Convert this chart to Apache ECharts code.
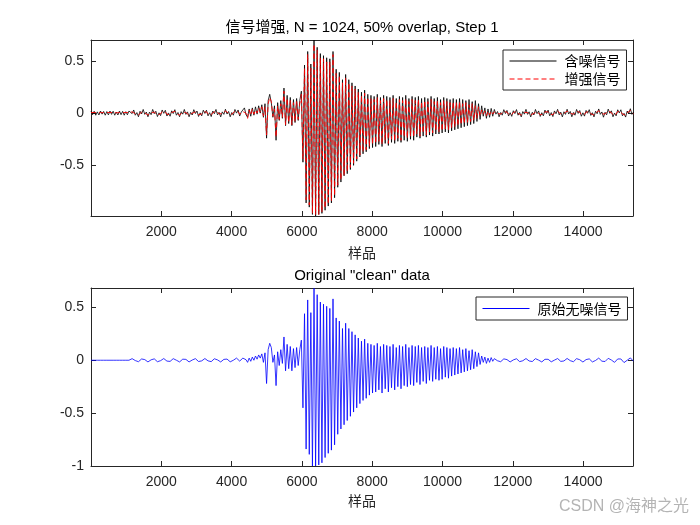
<!DOCTYPE html>
<html>
<head>
<meta charset="utf-8">
<script src="https://cdn.jsdelivr.net/npm/echarts@6.0.0/dist/echarts.min.js"></script>
<style>html,body{margin:0;padding:0;background:#fff;}#chart{width:700px;height:525px;}</style>
</head>
<body>
<div id="chart"></div>
<script>
// ---- data (sample spacing STEP between successive values) ----
const STEP = 45;
const xTicks = [2000, 4000, 6000, 8000, 10000, 12000, 14000];
const yTicksTop = [-0.5, 0, 0.5];
const yTicksBottom = [-1, -0.5, 0, 0.5];
const topTitle = '信号增强, N = 1024, 50% overlap, Step 1';
const bottomTitle = 'Original "clean" data';
const xLabel = '样品';
const seriesNames = ['含噪信号', '增强信号', '原始无噪信号'];

const noisySignal = [
0.02,-0.015,0.018,-0.02,0.012,-0.018,0.02,-0.01,0.016,-0.02,0.015,-0.017,0.02,-0.012,0.018,-0.02,0.01,-0.018,0.02,-0.015,0.017,-0.02,0.014,-0.016,0.02,
0.025,-0.005,0.03,-0.02,0.005,-0.035,0.018,
-0.008,0.035,-0.012,0.01,-0.035,0.01,-0.015,
0.035,-0.005,0.018,-0.033,0.003,-0.024,0.03,
-0.002,0.027,-0.028,0.002,-0.03,0.022,-0.004,
0.033,-0.02,0.006,-0.035,0.014,-0.01,0.035,
-0.012,0.012,-0.035,0.007,-0.018,0.033,-0.004,
0.02,-0.032,0.003,-0.026,0.028,-0.003,0.028,
-0.026,0.004,-0.033,0.02,-0.006,0.035,-0.017,
0.008,-0.036,0.012,-0.012,0.037,-0.009,0.016,
-0.035,0.006,-0.02,0.035,0.0,0.03,-0.028,
0.01,0.0,0.05,-0.015,-0.04,
0.04,-0.03,0.05,-0.02,0.06,-0.01,0.07,0.0,0.08,-0.04,0.09,-0.24,0.12,0.18,0.1,-0.04,0.07,-0.26,0.1,-0.07,0.12,-0.05,0.24,-0.12,0.17,-0.1,0.15,-0.12,0.13,-0.09,0.14,-0.07,0.12,
0.21,-0.47,0.46,-0.86,0.59,-0.9,0.47,-0.97,0.7,-0.985,0.63,-0.97,0.57,-0.96,0.55,-0.93,0.53,-0.89,0.52,-0.86,0.59,-0.81,0.42,-0.71,0.39,-0.66,0.32,-0.6,0.37,-0.58,0.32,-0.54,0.29,-0.5,0.26,-0.46,0.23,-0.42,0.2,-0.39,0.22,-0.37,0.18,-0.34,0.17,
-0.33,0.16,-0.32,0.18,-0.3,0.15,-0.32,0.17,-0.29,0.16,
-0.31,0.15,-0.28,0.17,-0.29,0.14,-0.27,0.16,-0.28,0.15,
-0.26,0.17,-0.27,0.14,-0.25,0.16,-0.26,0.15,-0.23,0.16,
-0.24,0.14,-0.22,0.15,-0.23,0.14,-0.21,0.16,-0.22,0.14,
-0.2,0.15,-0.2,0.13,-0.19,0.15,-0.18,0.14,-0.19,0.13,
-0.17,0.14,-0.16,0.13,-0.15,0.14,-0.14,0.13,-0.13,0.12,
-0.12,0.13,-0.11,0.11,-0.1,0.12,-0.08,0.09,-0.06,0.07,
-0.03,0.05,
-0.05,0.04,-0.04,0.045,-0.03,0.035,-0.01,
0.015,-0.035,0.006,-0.02,0.033,-0.004,0.026,
-0.028,0.004,-0.031,0.023,-0.005,0.034,-0.02,
0.007,-0.036,0.015,-0.01,0.036,-0.012,0.013,
-0.036,0.008,-0.018,0.035,-0.005,0.021,-0.032,
0.004,-0.026,0.029,-0.004,0.029,-0.026,0.005,
-0.033,0.021,-0.006,0.036,-0.017,0.009,-0.036,
0.013,-0.012,0.037,-0.009,0.016,-0.035,0.006,
-0.02,0.035,-0.003,0.025,-0.03,0.003,-0.029,
0.026,-0.002,0.033,-0.022,0.004,-0.036,0.018,
-0.006,0.04,-0.012,0.011,-0.039,0.008,-0.016,
0.038,-0.002,0.022,-0.035,0.0,-0.026,0.032,
0.002,0.032,-0.026,-0.002,-0.038,0.02,-0.002,
0.042,-0.012,0.01
];

const enhancedSignal = [
0.005,-0.004,0.006,-0.005,0.003,-0.006,0.005,-0.003,0.004,-0.006,0.005,-0.004,0.006,-0.003,0.005,-0.005,0.003,-0.006,0.005,-0.004,0.004,-0.005,0.006,-0.003,0.005,
0.008,0.012,0.015,-0.006,-0.011,-0.017,0.001,
0.009,0.019,0.003,-0.006,-0.019,-0.007,0.001,
0.018,0.01,0.002,-0.017,-0.012,-0.007,0.014,
0.013,0.01,-0.011,-0.013,-0.014,0.006,0.012,
0.017,-0.003,-0.01,-0.019,-0.002,0.007,0.019,
0.005,-0.004,-0.019,-0.009,-0.001,0.017,0.012,
0.004,-0.015,-0.013,-0.009,0.012,0.013,0.012,
-0.009,-0.012,-0.016,0.004,0.011,0.019,0.0,
-0.008,-0.019,-0.004,0.005,0.02,0.008,-0.001,
-0.018,-0.011,-0.003,0.018,0.017,0.013,-0.011,
-0.015,0.015,0.025,0.0,-0.05,
0.03,-0.02,0.04,-0.01,0.03,0.0,0.05,0.01,0.06,-0.03,0.06,-0.21,0.09,0.15,0.11,-0.03,0.04,-0.23,0.07,-0.06,0.09,-0.04,0.21,-0.11,0.14,-0.09,0.12,-0.11,0.1,-0.08,0.11,-0.06,0.09,
0.18,-0.44,0.43,-0.83,0.56,-0.88,0.43,-0.96,0.66,-0.97,0.6,-0.97,0.53,-0.95,0.52,-0.91,0.49,-0.87,0.49,-0.84,0.56,-0.79,0.38,-0.69,0.36,-0.64,0.29,-0.6,0.34,-0.56,0.29,-0.52,0.26,-0.48,0.23,-0.44,0.2,-0.4,0.17,-0.37,0.19,-0.35,0.15,-0.32,0.14,
-0.3,0.13,-0.29,0.15,-0.27,0.12,-0.3,0.14,-0.26,0.13,
-0.29,0.12,-0.25,0.14,-0.27,0.11,-0.24,0.13,-0.26,0.12,
-0.23,0.14,-0.24,0.11,-0.22,0.13,-0.23,0.12,-0.2,0.13,
-0.22,0.11,-0.19,0.12,-0.21,0.11,-0.18,0.13,-0.19,0.11,
-0.17,0.12,-0.18,0.1,-0.17,0.12,-0.15,0.11,-0.16,0.1,
-0.14,0.11,-0.13,0.1,-0.12,0.11,-0.11,0.09,-0.1,0.1,
-0.09,0.08,-0.08,0.09,-0.07,0.07,-0.05,0.06,-0.03,0.03,
-0.01,0.02,
-0.025,0.018,-0.018,0.02,-0.008,0.012,0.008,
-0.002,-0.018,-0.01,-0.003,0.016,0.012,0.009,
-0.011,-0.013,-0.014,0.006,0.012,0.017,-0.003,
-0.01,-0.019,-0.002,0.007,0.019,0.005,-0.004,
-0.019,-0.009,-0.001,0.018,0.012,0.004,-0.015,
-0.013,-0.009,0.012,0.013,0.012,-0.009,-0.012,
-0.016,0.004,0.011,0.019,0.0,-0.008,-0.019,
-0.004,0.005,0.02,0.008,-0.001,-0.018,-0.011,
-0.003,0.018,0.014,0.008,-0.013,-0.014,-0.012,
0.009,0.015,0.016,-0.005,-0.013,-0.019,0.001,
0.011,0.023,0.005,-0.006,-0.022,-0.009,0.001,
0.021,0.015,0.005,-0.018,-0.017,-0.009,0.015,
0.019,0.015,-0.009,-0.019,-0.021,0.003,0.015,
0.025,0.005,-0.007
];

const cleanSignal = [
0,0,0,0,0,0,0,0,0,0,0,0,0,0,0,0,0,0,0,0,0,0,0,0,0,
0.005,0.015,0.012,-0.003,-0.014,-0.014,-0.002,
0.012,0.016,0.006,-0.009,-0.016,-0.01,0.004,
0.015,0.013,-0.001,-0.014,-0.015,-0.004,0.011,
0.016,0.007,-0.008,-0.016,-0.011,0.003,0.015,
0.014,0.0,-0.013,-0.016,-0.005,0.01,0.016,
0.008,-0.007,-0.016,-0.012,0.002,0.014,0.015,
0.001,-0.012,-0.016,-0.006,0.009,0.016,0.009,
-0.006,-0.015,-0.013,0.001,0.014,0.016,0.003,
-0.011,-0.016,-0.007,0.008,0.017,0.011,-0.004,
-0.015,-0.014,0.0,0.015,0.02,0.01,-0.008,
-0.01,0.02,0.03,0.005,-0.02,
0.02,-0.01,0.03,0.0,0.04,0.01,0.05,0.02,0.06,-0.02,0.07,-0.22,0.1,0.16,0.12,-0.02,0.05,-0.24,0.08,-0.05,0.1,-0.03,0.22,-0.1,0.15,-0.08,0.13,-0.1,0.11,-0.07,0.12,-0.05,0.1,
0.19,-0.45,0.44,-0.84,0.57,-0.89,0.45,-1.0,0.68,-1.0,0.62,-0.99,0.55,-0.97,0.53,-0.92,0.51,-0.88,0.49,-0.85,0.58,-0.8,0.4,-0.7,0.37,-0.65,0.3,-0.61,0.35,-0.57,0.3,-0.53,0.27,-0.49,0.24,-0.45,0.21,-0.41,0.18,-0.38,0.2,-0.36,0.16,-0.33,0.15,
-0.31,0.14,-0.3,0.16,-0.28,0.13,-0.31,0.15,-0.27,0.14,
-0.3,0.13,-0.26,0.15,-0.28,0.12,-0.25,0.14,-0.27,0.13,
-0.24,0.15,-0.25,0.12,-0.23,0.14,-0.24,0.13,-0.21,0.14,
-0.23,0.12,-0.2,0.13,-0.22,0.12,-0.19,0.14,-0.2,0.12,
-0.18,0.13,-0.19,0.11,-0.18,0.13,-0.16,0.12,-0.17,0.11,
-0.15,0.12,-0.14,0.11,-0.13,0.12,-0.12,0.1,-0.11,0.11,
-0.1,0.09,-0.09,0.1,-0.08,0.08,-0.06,0.07,-0.04,0.04,
-0.02,0.03,
-0.03,0.02,-0.02,0.025,-0.01,0.015,0.01,
-0.005,-0.015,-0.014,0.0,0.013,0.016,0.006,
-0.008,-0.016,-0.011,0.003,0.015,0.014,0.0,
-0.013,-0.016,-0.005,0.01,0.016,0.008,-0.007,
-0.016,-0.012,0.002,0.015,0.015,0.001,-0.012,
-0.016,-0.006,0.009,0.016,0.009,-0.006,-0.015,
-0.013,0.001,0.014,0.016,0.003,-0.011,-0.016,
-0.007,0.008,0.017,0.011,-0.004,-0.015,-0.014,
0.0,0.015,0.017,0.005,-0.01,-0.017,-0.009,
0.006,0.018,0.013,-0.002,-0.016,-0.016,-0.002,
0.014,0.02,0.008,-0.009,-0.019,-0.012,0.004,
0.018,0.018,0.002,-0.015,-0.02,-0.006,0.012,
0.022,0.012,-0.006,-0.022,-0.018,0.0,0.018,
0.022,0.008,-0.01
];

// ---- chart ----
const FONT = '"Liberation Sans", Arial, "Noto Sans CJK SC", sans-serif';
const CJK = '"Noto Sans CJK SC", "Liberation Sans", sans-serif';
const AX = '#262626';
const X_MIN = 0, X_MAX = 15420;
const GRIDS = [
  {left: 91, top: 40, width: 542, height: 176, ymin: -0.985, ymax: 0.70, ticks: yTicksTop},
  {left: 91, top: 288, width: 542, height: 178, ymin: -1, ymax: 0.683, ticks: yTicksBottom}
];
const toPairs = arr => arr.map((v, i) => [i * STEP, v]);

function xAxisFor(g, pos) {
  return {
    gridIndex: g, type: 'value', min: X_MIN, max: X_MAX, position: pos,
    axisLine: {show: true, onZero: false, lineStyle: {color: AX, width: 1}},
    axisTick: {show: true, inside: true, length: 5, customValues: xTicks, lineStyle: {color: AX, width: 1}},
    axisLabel: {show: pos === 'bottom', customValues: xTicks, margin: 9, color: AX, fontSize: 14, fontFamily: FONT,
      formatter: v => String(v)},
    splitLine: {show: false}
  };
}
function yAxisFor(g, pos) {
  const gr = GRIDS[g];
  return {
    gridIndex: g, type: 'value', min: gr.ymin, max: gr.ymax, position: pos,
    axisLine: {show: true, onZero: false, lineStyle: {color: AX, width: 1}},
    axisTick: {show: true, inside: true, length: 5, customValues: gr.ticks, lineStyle: {color: AX, width: 1}},
    axisLabel: {show: pos === 'left', customValues: gr.ticks, margin: 7, color: AX, fontSize: 14, fontFamily: FONT,
      formatter: v => String(v)},
    splitLine: {show: false}
  };
}
function txt(text, x, y, size, family, color) {
  return {type: 'text', x: x, y: y, silent: true,
    style: {text: text, fontSize: size, fontFamily: family, fill: color, textAlign: 'center', textVerticalAlign: 'middle'}};
}
const legendBase = {
  orient: 'vertical', selectedMode: false, itemWidth: 47, itemHeight: 13, itemGap: 0,
  padding: [2, 6, 2, 6], borderColor: AX, borderWidth: 1, backgroundColor: '#ffffff',
  itemStyle: {opacity: 0}, lineStyle: {width: 1, opacity: 1}
};

const chart = echarts.init(document.getElementById('chart'), null, {renderer: 'canvas'});
chart.setOption({
  animation: false,
  backgroundColor: '#ffffff',
  grid: GRIDS.map(g => ({left: g.left, top: g.top, width: g.width, height: g.height, containLabel: false})),
  xAxis: [xAxisFor(0, 'bottom'), xAxisFor(0, 'top'), xAxisFor(1, 'bottom'), xAxisFor(1, 'top')],
  yAxis: [yAxisFor(0, 'left'), yAxisFor(0, 'right'), yAxisFor(1, 'left'), yAxisFor(1, 'right')],
  legend: [
    Object.assign({}, legendBase, {data: [seriesNames[0], seriesNames[1]], left: 503, top: 50,
      textStyle: {fontFamily: CJK, fontSize: 14, color: '#000', lineHeight: 18, padding: [0, 0, 0, 3]}}),
    Object.assign({}, legendBase, {data: [seriesNames[2]], left: 476, top: 297,
      textStyle: {fontFamily: CJK, fontSize: 14, color: '#000', lineHeight: 19, padding: [0, 0, 0, 3]}})
  ],
  series: [
    {type: 'line', name: seriesNames[0], xAxisIndex: 0, yAxisIndex: 0, data: toPairs(noisySignal),
     symbol: 'none', clip: true, lineStyle: {color: '#000000', width: 0.8}, itemStyle: {color: '#000000'}, z: 2},
    {type: 'line', name: seriesNames[1], xAxisIndex: 0, yAxisIndex: 0, data: toPairs(enhancedSignal),
     symbol: 'none', clip: true, lineStyle: {color: '#ff0000', width: 0.9, type: [5, 3]}, itemStyle: {color: '#ff0000'}, z: 3},
    {type: 'line', name: seriesNames[2], xAxisIndex: 2, yAxisIndex: 2, data: toPairs(cleanSignal),
     symbol: 'none', clip: true, lineStyle: {color: '#0000ff', width: 0.8}, itemStyle: {color: '#0000ff'}, z: 2}
  ],
  graphic: [
    txt(topTitle, 362, 28, 15, FONT, '#000'),
    txt(bottomTitle, 362, 276, 15, FONT, '#000'),
    txt(xLabel, 362, 253, 14, CJK, AX),
    txt(xLabel, 362, 501, 14, CJK, AX),
    txt('CSDN @海神之光', 624, 507, 16, FONT, '#b4b4b4')
  ]
});
</script>
</body>
</html>
